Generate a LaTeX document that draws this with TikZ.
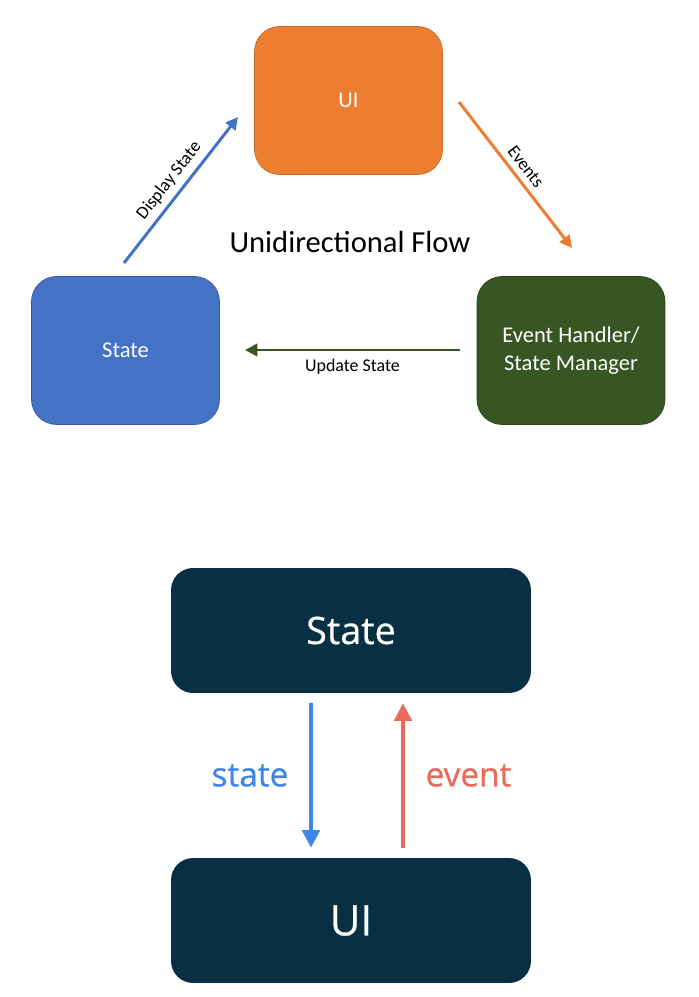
\documentclass[tikz,border=0pt]{standalone}
\usepackage{fontspec}
\setmainfont{Carlito}
\newfontfamily\gsans[FakeBold=0.6]{Open Sans}
\usepackage{xcolor}
\usepackage{tikz}
\usetikzlibrary{arrows.meta}
\definecolor{uiorange}{HTML}{ED7D31}
\definecolor{stblue}{HTML}{4472C4}
\definecolor{hdgreen}{HTML}{375623}
\definecolor{navy}{HTML}{073042}
\definecolor{flowblue}{HTML}{3D85E8}
\definecolor{flowred}{HTML}{E86A5B}

\begin{document}
\begin{tikzpicture}[x=0.02cm,y=-0.02cm,
    box/.style={rectangle,rounded corners=0.5cm,minimum width=3.76cm,minimum height=2.96cm,inner sep=0pt,text=white,align=center,font=\fontsize{12.8}{16}\selectfont},
    darkbox/.style={rectangle,rounded corners=0.44cm,fill=navy,minimum width=7.2cm,minimum height=2.5cm,inner sep=0pt,text=white,font=\gsans\fontsize{21.5}{26}\selectfont},
    flow/.style={line width=1.7pt,-{Triangle[length=7pt,width=7pt]}},
    bigflow/.style={line width=2pt,-{Triangle[length=10pt,width=10pt]},shorten <=0.2cm,shorten >=0.2cm},
    lbl/.style={text=black,font=\fontsize{10.2}{12}\selectfont},
    biglbl/.style={font=\gsans\fontsize{19}{23}\selectfont}]
    \useasboundingbox (0,0) rectangle (699,997);
    \node[box,fill=uiorange,draw=uiorange!85!black] (ui) at (348.5,100.5) {UI};
    \node[box,fill=stblue,draw=stblue!80!black] (st) at (125.5,350.5) {State};
    \node[box,fill=hdgreen,draw=hdgreen!80!black] (hd) at (571,350.5) {Event Handler/\\State Manager};
    \node[font=\fontsize{17.4}{20}\selectfont] (title) at (350,242) {Unidirectional Flow};
    \coordinate (dsfrom) at (124,263);
    \coordinate (dsto) at (238,117);
    \coordinate (evfrom) at (459,102);
    \coordinate (evto) at (572,248);
    \coordinate (upfrom) at (460,350);
    \coordinate (upto) at (245,350);
    \draw[flow,stblue] (dsfrom) -- node[lbl,sloped,above] {Display State} (dsto);
    \draw[flow,uiorange] (evfrom) -- node[lbl,sloped,above] {Events} (evto);
    \draw[flow,hdgreen] (upfrom) -- node[lbl,below=1pt] {Update State} (upto);

    \node[darkbox] (sst) at (351,630.5) {State};
    \node[darkbox,font=\gsans\fontsize{24}{28}\selectfont] (sui) at (351,920.5) {UI};
    \draw[bigflow,flowblue] ([xshift=-0.8cm]sst.south) -- node[biglbl,left=0.3cm] {state} ([xshift=-0.8cm]sui.north);
    \draw[bigflow,flowred] ([xshift=1.04cm]sui.north) -- node[biglbl,right=0.3cm] {event} ([xshift=1.04cm]sst.south);
\end{tikzpicture}
\end{document}
